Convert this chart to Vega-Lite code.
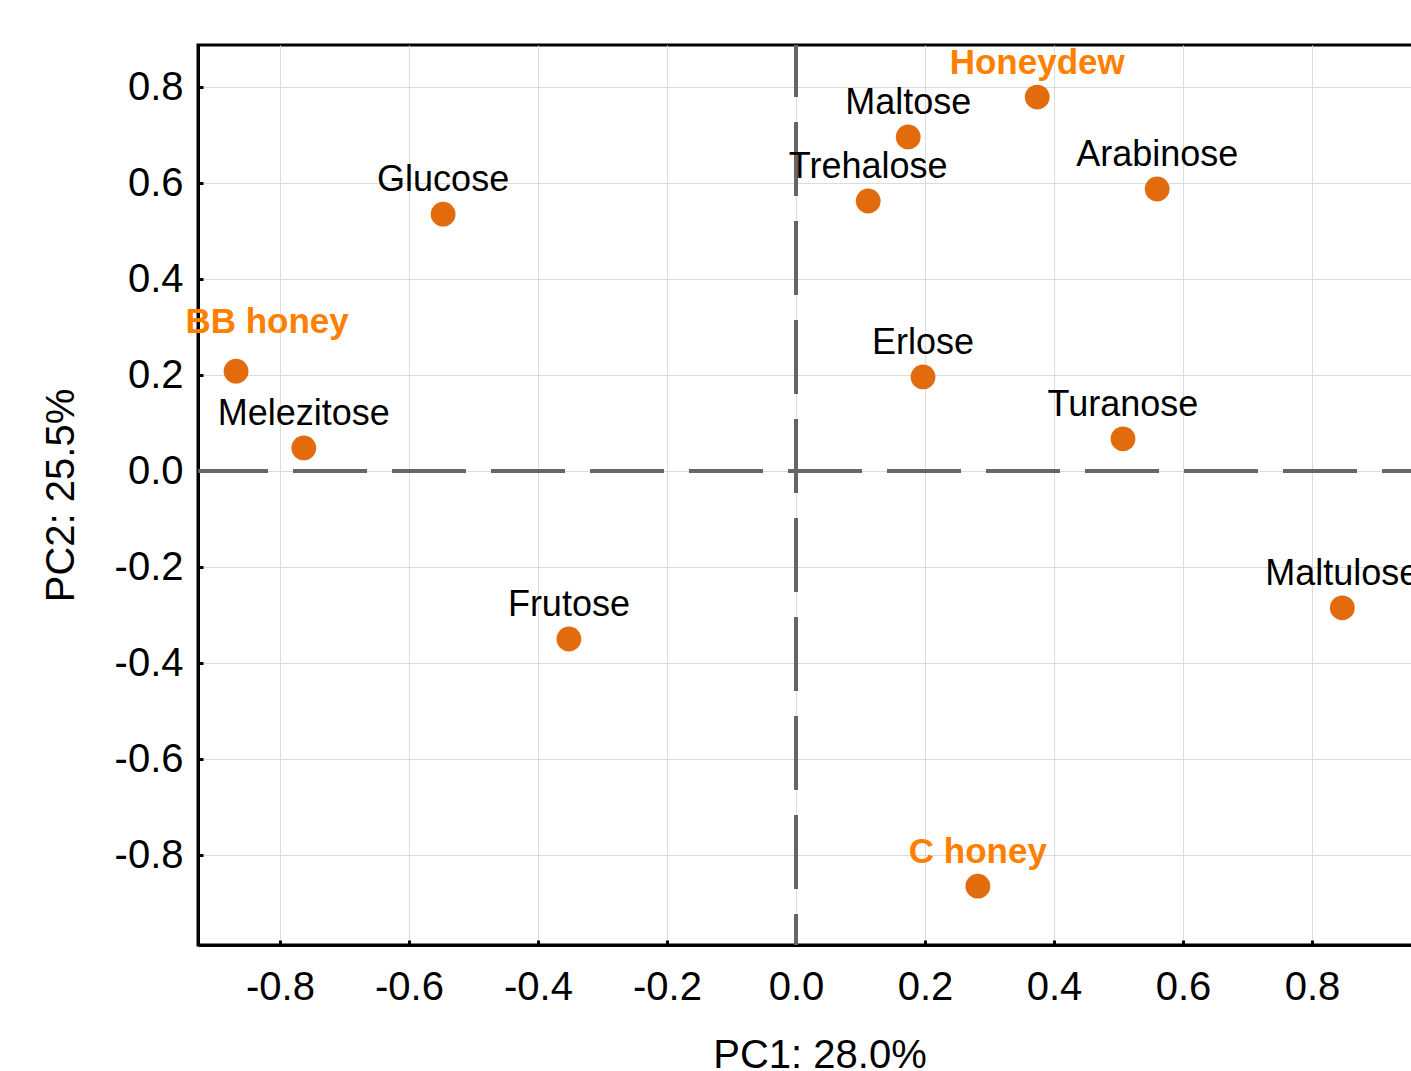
{
  "$schema": "https://vega.github.io/schema/vega-lite/v6.json",
  "autosize": "none",
  "width": 1243,
  "height": 900,
  "padding": {"left": 198, "top": 45, "right": 0, "bottom": 126},
  "background": "white",
  "config": {
    "font": "Liberation Sans",
    "view": {"stroke": "black", "strokeWidth": 3},
    "axis": {
      "domainColor": "black",
      "domainWidth": 3,
      "tickColor": "black",
      "tickWidth": 3,
      "tickSize": -5,
      "gridColor": "#dcdcdc",
      "gridWidth": 1,
      "labelFont": "Liberation Sans",
      "labelFontSize": 40,
      "labelColor": "black",
      "titleFont": "Liberation Sans",
      "titleFontSize": 40,
      "titleFontWeight": "normal",
      "titleColor": "black"
    }
  },
  "data": {
    "values": [
      {"name": "Honeydew", "pc1": 0.374, "pc2": 0.779, "type": "honey"},
      {"name": "Maltose", "pc1": 0.174, "pc2": 0.696, "type": "sugar"},
      {"name": "Trehalose", "pc1": 0.112, "pc2": 0.5625, "type": "sugar"},
      {"name": "Arabinose", "pc1": 0.560, "pc2": 0.5875, "type": "sugar"},
      {"name": "Glucose", "pc1": -0.547, "pc2": 0.535, "type": "sugar"},
      {"name": "BB honey", "pc1": -0.868, "pc2": 0.208, "type": "honey"},
      {"name": "Melezitose", "pc1": -0.763, "pc2": 0.048, "type": "sugar"},
      {"name": "Erlose", "pc1": 0.197, "pc2": 0.196, "type": "sugar"},
      {"name": "Turanose", "pc1": 0.507, "pc2": 0.067, "type": "sugar"},
      {"name": "Maltulose", "pc1": 0.847, "pc2": -0.285, "type": "sugar"},
      {"name": "Frutose", "pc1": -0.352, "pc2": -0.350, "type": "sugar"},
      {"name": "C honey", "pc1": 0.282, "pc2": -0.865, "type": "honey"}
    ]
  },
  "encoding": {
    "x": {
      "field": "pc1", "type": "quantitative",
      "scale": {"domain": [-0.927, 1.0], "nice": false, "zero": false},
      "axis": {
        "title": "PC1: 28.0%",
        "values": [-0.8, -0.6, -0.4, -0.2, 0, 0.2, 0.4, 0.6, 0.8],
        "labelExpr": "replace(format(datum.value, '.1f'), '\u2212', '-')",
        "labelPadding": 27,
        "titlePadding": 28
      }
    },
    "y": {
      "field": "pc2", "type": "quantitative",
      "scale": {"domain": [-0.9875, 0.8875], "nice": false, "zero": false},
      "axis": {
        "title": "PC2: 25.5%",
        "values": [-0.8, -0.6, -0.4, -0.2, 0, 0.2, 0.4, 0.6, 0.8],
        "labelExpr": "replace(format(datum.value, '.1f'), '\u2212', '-')",
        "labelPadding": 20,
        "titlePadding": 33
      }
    }
  },
  "layer": [
    {
      "mark": {"type": "rule", "color": "#666666", "strokeWidth": 3, "strokeDash": [74, 25], "strokeDashOffset": 15},
      "encoding": {"y": {"datum": 0, "type": "quantitative"}, "x": null}
    },
    {
      "mark": {"type": "rule", "color": "#666666", "strokeWidth": 3, "strokeDash": [74, 25], "strokeDashOffset": 22},
      "encoding": {"x": {"datum": 0, "type": "quantitative"}, "y": null}
    },
    {
      "mark": {"type": "point", "filled": true, "shape": "circle", "size": 615, "color": "#E26C0D", "opacity": 1},
      "encoding": {}
    },
    {
      "transform": [{"filter": "datum.type === 'sugar'"}],
      "mark": {"type": "text", "font": "Liberation Sans", "fontSize": 36, "color": "black", "align": "center", "baseline": "alphabetic", "dy": -23},
      "encoding": {"text": {"field": "name"}}
    },
    {
      "transform": [{"filter": "datum.type === 'honey' && datum.name !== 'BB honey'"}],
      "mark": {"type": "text", "font": "Liberation Sans", "fontSize": 35, "fontWeight": "bold", "color": "#FF8000", "align": "center", "baseline": "alphabetic", "dy": -23},
      "encoding": {"text": {"field": "name"}}
    },
    {
      "transform": [{"filter": "datum.name === 'BB honey'"}],
      "mark": {"type": "text", "font": "Liberation Sans", "fontSize": 35, "fontWeight": "bold", "color": "#FF8000", "align": "center", "baseline": "alphabetic", "dx": 31, "dy": -38},
      "encoding": {"text": {"field": "name"}}
    }
  ]
}
